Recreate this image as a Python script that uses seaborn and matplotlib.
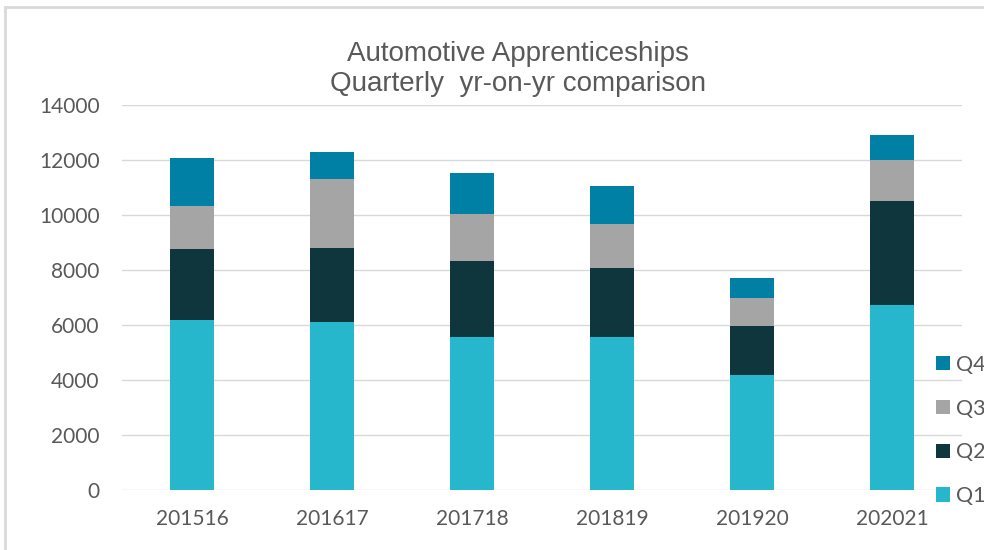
import matplotlib
matplotlib.use("Agg")
import matplotlib.pyplot as plt
from matplotlib.patches import Patch, Rectangle
import numpy as np
import pandas as pd
import seaborn as sns

years = ["201516", "201617", "201718", "201819", "201920", "202021"]
q1 = [6200, 6120, 5560, 5560, 4200, 6730]
q2 = [2550, 2670, 2750, 2520, 1750, 3780]
q3 = [1560, 2510, 1730, 1590, 1050, 1490]
q4 = [1780, 980, 1500, 1400, 700, 900]

quarters = ["Q1", "Q2", "Q3", "Q4"]
colors = {"Q1": "#27b7cc", "Q2": "#10363d", "Q3": "#a5a5a5", "Q4": "#0080a4"}
text_color = "#595959"

# cumulative tops, drawn from the tallest stack down so each layer covers the one below
tops = np.cumsum([q1, q2, q3, q4], axis=0)
frame = pd.DataFrame({"year": years})
for name, top in zip(quarters, tops):
    frame[name] = top

sns.set_theme(style="white")
plt.rcParams["font.family"] = ["Lato", "DejaVu Sans"]

fig = plt.figure(figsize=(9.84, 5.5), dpi=100)
ax = fig.add_axes([122 / 984, 1 - 490 / 550, 840 / 984, 385 / 550])

for name in reversed(quarters):
    sns.barplot(data=frame, x="year", y=name, order=years, color=colors[name],
                saturation=1, width=0.31, linewidth=0, ax=ax)

ax.set_ylim(0, 14000)
ax.set_yticks(range(0, 14001, 2000))
ax.set_xlim(-0.5, len(years) - 0.5)
ax.set_xlabel("")
ax.set_ylabel("")
ax.grid(axis="y", color="#d9d9d9", linewidth=1)
ax.set_axisbelow(True)
for spine in ax.spines.values():
    spine.set_visible(False)
ax.tick_params(axis="both", length=0, labelsize=15, labelcolor=text_color)
ax.tick_params(axis="y", pad=16)
ax.tick_params(axis="x", pad=14)

fig.text(0.526, 0.875, "Automotive Apprenticeships\nQuarterly  yr-on-yr comparison",
         ha="center", va="center", fontsize=20, color=text_color,
         family=["Liberation Sans", "DejaVu Sans"], linespacing=1.22)

handles = [Patch(facecolor=colors[q], edgecolor="none") for q in reversed(quarters)]
fig.legend(handles, list(reversed(quarters)), loc="upper left",
           bbox_to_anchor=(936 / 984, 1 - 355 / 550), frameon=False,
           fontsize=15.5, labelcolor=text_color, handlelength=0.63, handleheight=0.63,
           handletextpad=0.3, labelspacing=1.1, borderpad=0, borderaxespad=0)

# chart area frame, cut off at the right and bottom like the screenshot
fig.patches.append(Rectangle((5 / 984, -0.2), 1.2, 1.2 - 7 / 550, transform=fig.transFigure,
                             fill=False, edgecolor="#d9d9d9", linewidth=2, figure=fig))

fig.savefig("out.png", dpi=100)
